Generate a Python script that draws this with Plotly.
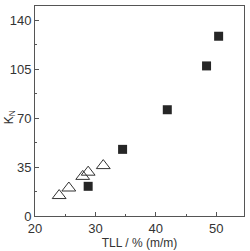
import plotly.graph_objects as go

sq_x = [28.8, 34.5, 41.9, 48.4, 50.4]
sq_y = [21.2, 47.6, 75.9, 107.2, 128.4]
tri_x = [24.0, 25.6, 27.9, 28.8, 31.3]
tri_y = [14.6, 20.0, 28.3, 31.3, 36.0]
x_ticks = [20, 30, 40, 50]
y_ticks = [0, 35, 70, 105, 140]

fig = go.Figure()
fig.add_trace(go.Scatter(x=tri_x, y=tri_y, mode="markers",
                         marker=dict(symbol="triangle-up-open", size=12,
                                     color="#333333", line=dict(width=1, color="#333333"))))
fig.add_trace(go.Scatter(x=sq_x, y=sq_y, mode="markers",
                         marker=dict(symbol="square", size=9, color="#262626",
                                     line=dict(width=0))))

axis_common = dict(showgrid=False, zeroline=False, showline=True, linecolor="#555555",
                   linewidth=1, mirror=True, ticks="inside", ticklen=4, tickcolor="#555555",
                   tickfont=dict(family="Liberation Sans, Arial", size=13, color="#333333"))

fig.update_xaxes(range=[20, 54.6], tickvals=x_ticks,
                 minor=dict(dtick=5, ticks="inside", ticklen=2, tickcolor="#555555"),
                 title=dict(text="TLL / % (m/m)", standoff=2,
                            font=dict(family="Liberation Sans, Arial", size=12, color="#333333")),
                 **axis_common)
fig.update_yaxes(range=[0, 150], tickvals=y_ticks,
                 minor=dict(dtick=17.5, ticks="inside", ticklen=2, tickcolor="#555555"),
                 **axis_common)

fig.add_annotation(text="K<sub>N</sub>", xref="paper", yref="paper", x=-0.12, y=0.47,
                   textangle=-90, showarrow=False, xanchor="center", yanchor="middle",
                   font=dict(family="Liberation Sans, Arial", size=12, color="#333333"))

fig.update_layout(width=250, height=251, margin=dict(l=35, r=5, t=6, b=33),
                  plot_bgcolor="white", paper_bgcolor="white", showlegend=False)

fig.write_html("out.html")
